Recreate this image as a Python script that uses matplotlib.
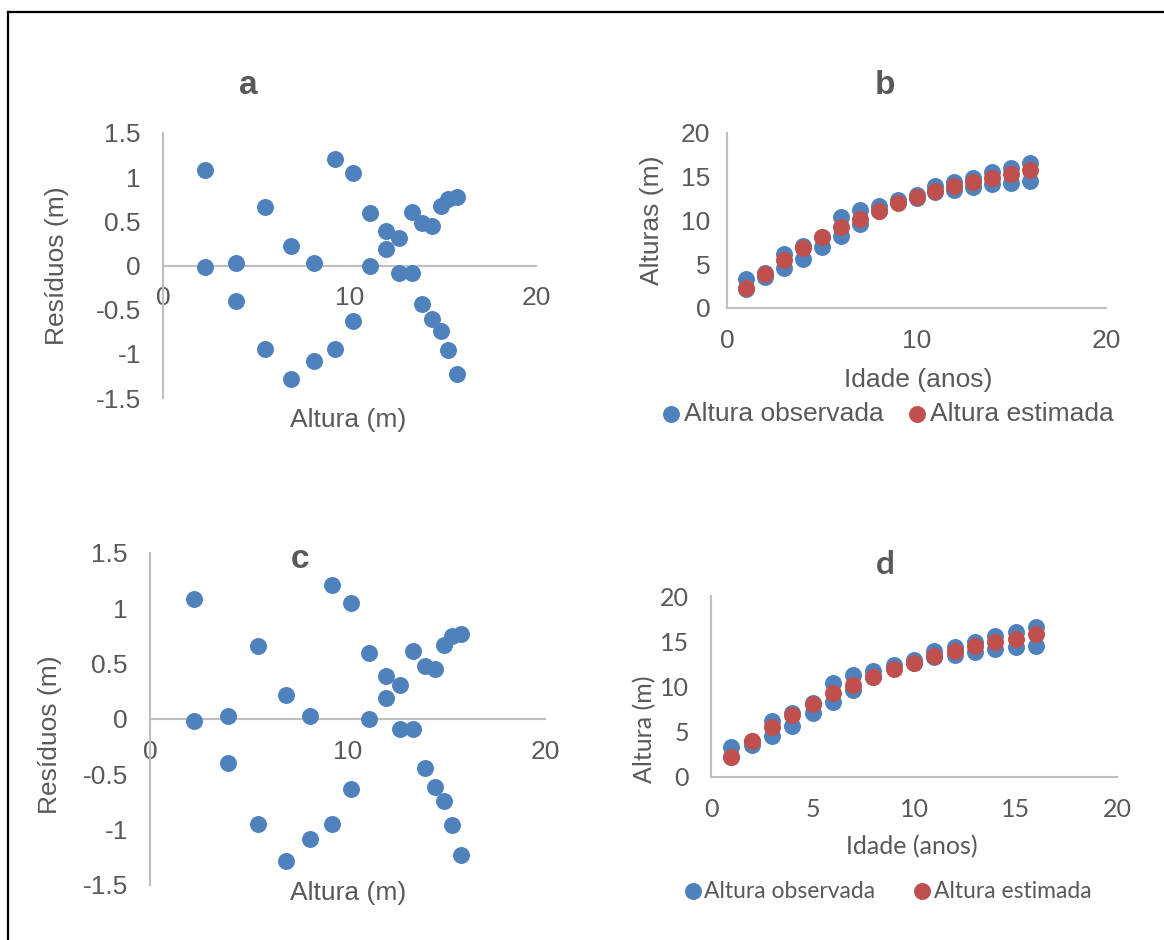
import numpy as np
import matplotlib
matplotlib.use("Agg")
import matplotlib.pyplot as plt
from matplotlib.lines import Line2D

plt.rcParams['axes.unicode_minus'] = False

# idade (anos)
idade = [1, 2, 3, 4, 5, 6, 7, 8, 9, 10, 11, 12, 13, 14, 15, 16]

# altura estimada (m)
altura_est = [2.23, 3.93, 5.48, 6.88, 8.10, 9.23, 10.20, 11.10,
              11.95, 12.64, 13.34, 13.90, 14.43, 14.90, 15.30, 15.75]

# duas observações por idade (m)
altura_obs_1 = [3.31, 3.96, 6.14, 7.10, 8.13, 10.44, 11.25, 11.70,
                12.34, 12.95, 13.95, 14.38, 14.88, 15.57, 16.05, 16.52]
altura_obs_2 = [2.21, 3.53, 4.53, 5.60, 7.02, 8.28, 9.57, 11.10,
                12.14, 12.55, 13.25, 13.46, 13.82, 14.16, 14.34, 14.52]

# resíduos (m)
residuo_1 = [1.08, 0.03, 0.66, 0.22, 0.03, 1.21, 1.05, 0.60,
             0.39, 0.31, 0.61, 0.48, 0.45, 0.67, 0.75, 0.77]
residuo_2 = [-0.02, -0.40, -0.95, -1.28, -1.08, -0.95, -0.63, 0.00,
             0.19, -0.09, -0.09, -0.44, -0.61, -0.74, -0.96, -1.23]

res_ticks = [-1.5, -1, -0.5, 0, 0.5, 1, 1.5]

AZUL = '#4F81BD'
VERMELHO = '#C0504D'
TEXTO = '#595959'
EIXO = '#BFBFBF'

W, H = 1164, 940
fig = plt.figure(figsize=(W / 100, H / 100), dpi=100)


def box(l, r, t, b):
    return [l / W, 1 - b / H, (r - l) / W, (b - t) / H]


def fmt(v):
    return '{:g}'.format(v)


def style_axes(ax, font, size, xpad, ypad):
    for s in ['top', 'right']:
        ax.spines[s].set_visible(False)
    for s in ['left', 'bottom']:
        ax.spines[s].set_color(EIXO)
        ax.spines[s].set_linewidth(1.5)
    ax.tick_params(axis='both', length=0, colors=TEXTO, labelsize=size)
    ax.tick_params(axis='x', pad=xpad)
    ax.tick_params(axis='y', pad=ypad)
    for lab in ax.get_xticklabels() + ax.get_yticklabels():
        lab.set_family(font)


def residual_panel(rect, title, title_xy, xl_pos, yl_pos):
    ax = fig.add_axes(rect)
    ax.scatter(altura_est, residuo_1, s=125, color=AZUL, zorder=3, clip_on=False)
    ax.scatter(altura_est, residuo_2, s=125, color=AZUL, zorder=3, clip_on=False)
    ax.set_xlim(0, 20)
    ax.set_ylim(-1.5, 1.5)
    ax.set_xticks([0, 10, 20])
    ax.set_xticklabels([fmt(v) for v in [0, 10, 20]])
    ax.set_yticks(res_ticks)
    ax.set_yticklabels([fmt(v) for v in res_ticks])
    ax.spines['bottom'].set_position(('data', 0))
    style_axes(ax, 'Liberation Sans', 19, 15, 16)
    ax.set_xlabel('Altura (m)', fontsize=19, color=TEXTO, family='Liberation Sans')
    ax.set_ylabel('Resíduos (m)', fontsize=19, color=TEXTO, family='Liberation Sans')
    ax.xaxis.set_label_coords(*xl_pos)
    ax.yaxis.set_label_coords(*yl_pos)
    ax.xaxis.label.set_va('center')
    ax.yaxis.label.set_va('center')
    fig.text(title_xy[0] / W, 1 - title_xy[1] / H, title, fontsize=24,
             fontweight='bold', color=TEXTO, family='Liberation Sans',
             ha='center', va='center')
    return ax


def height_panel(rect, title, title_xy, xticks, ylabel, font, size, xl_pos, yl_pos,
                 leg_xy, ypad, leg_size, colspace):
    ax = fig.add_axes(rect)
    ax.scatter(idade, altura_obs_1, s=125, color=AZUL, zorder=3, clip_on=False,
               label='Altura observada')
    ax.scatter(idade, altura_obs_2, s=125, color=AZUL, zorder=3, clip_on=False)
    ax.scatter(idade, altura_est, s=125, color=VERMELHO, zorder=4, clip_on=False,
               label='Altura estimada')
    ax.set_xlim(0, 20)
    ax.set_ylim(0, 20)
    ax.set_xticks(xticks)
    ax.set_yticks([0, 5, 10, 15, 20])
    style_axes(ax, font, size, 15, ypad)
    ax.set_xlabel('Idade (anos)', fontsize=size, color=TEXTO, family=font)
    ax.set_ylabel(ylabel, fontsize=size, color=TEXTO, family=font)
    ax.xaxis.set_label_coords(*xl_pos)
    ax.yaxis.set_label_coords(*yl_pos)
    ax.xaxis.label.set_va('center')
    ax.yaxis.label.set_va('center')
    leg = ax.legend(loc='center', bbox_to_anchor=(leg_xy[0] / W, 1 - leg_xy[1] / H),
                    bbox_transform=fig.transFigure, ncol=2, frameon=False,
                    handlelength=0.7, handletextpad=0.15, columnspacing=colspace,
                    borderpad=0, prop={'family': font, 'size': leg_size})
    for t in leg.get_texts():
        t.set_color(TEXTO)
    fig.text(title_xy[0] / W, 1 - title_xy[1] / H, title, fontsize=24,
             fontweight='bold', color=TEXTO, family=font,
             ha='center', va='center')
    return ax


# a
residual_panel(box(163, 536, 133, 398), 'a', (248, 85), (0.496, -0.083), (-0.284, 0.5))
# b
height_panel(box(727, 1106, 133, 308), 'b', (885, 85), [0, 10, 20], 'Alturas (m)',
             'Liberation Sans', 19, (0.504, -0.411), (-0.198, 0.503), (888, 414), 12,
             19, 0.9)
# c
residual_panel(box(150, 545, 553, 885), 'c', (300, 560), (0.501, -0.024), (-0.253, 0.452))
# d
height_panel(box(711, 1117, 596, 777), 'd', (885, 565), [0, 5, 10, 15, 20], 'Altura (m)',
             'Lato', 18, (0.495, -0.387), (-0.163, 0.265), (888, 891), 16,
             16.5, 1.7)

# moldura
fig.add_artist(Line2D([8 / W, 1], [1 - 12 / H, 1 - 12 / H], color='black', lw=1.6,
                      transform=fig.transFigure))
fig.add_artist(Line2D([8 / W, 8 / W], [0, 1 - 12 / H], color='black', lw=1.6,
                      transform=fig.transFigure))

fig.savefig('out.png', dpi=100)
